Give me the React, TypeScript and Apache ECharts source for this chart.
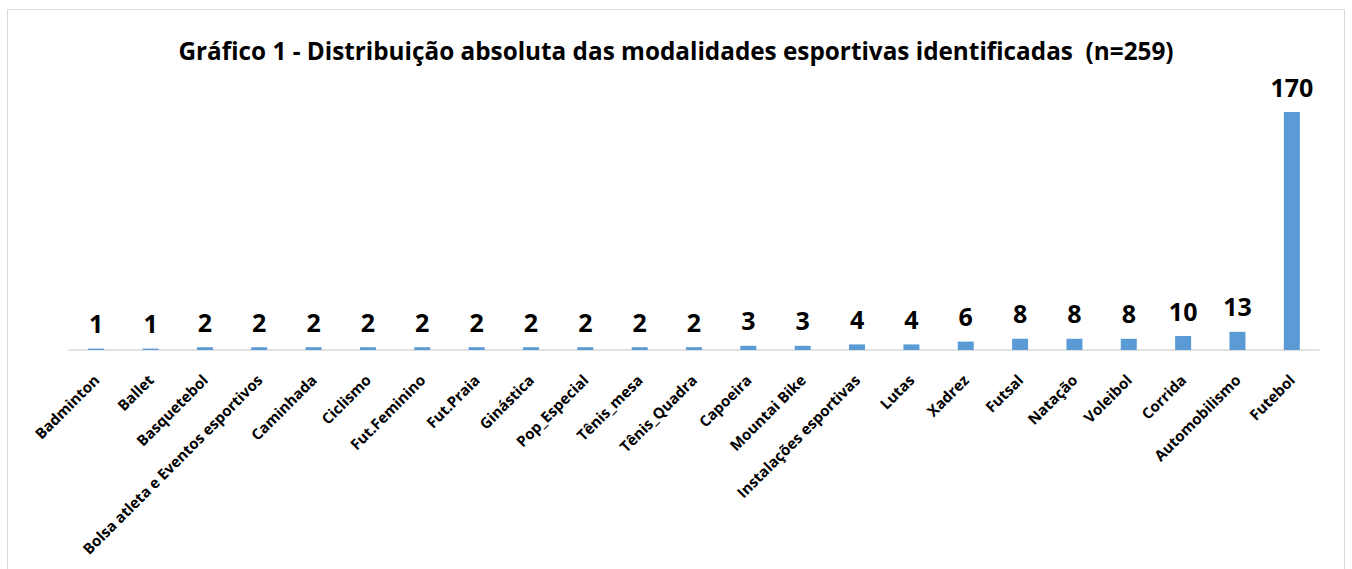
import React, { useEffect, useRef } from "react";
import * as echarts from "echarts";

const categories = [
  "Badminton", "Ballet", "Basquetebol", "Bolsa atleta e Eventos esportivos", "Caminhada",
  "Ciclismo", "Fut.Feminino", "Fut.Praia", "Ginástica", "Pop_Especial", "Tênis_mesa",
  "Tênis_Quadra", "Capoeira", "Mountai Bike", "Instalações esportivas", "Lutas", "Xadrez",
  "Futsal", "Natação", "Voleibol", "Corrida", "Automobilismo", "Futebol",
];
const values = [1, 1, 2, 2, 2, 2, 2, 2, 2, 2, 2, 2, 3, 3, 4, 4, 6, 8, 8, 8, 10, 13, 170];
const titleText = "Gráfico 1 - Distribuição absoluta das modalidades esportivas identificadas  (n=259)";

export default function App() {
  const ref = useRef<HTMLDivElement>(null);
  useEffect(() => {
    if (!ref.current) return;
    const chart = echarts.init(ref.current, null, { renderer: "svg" });
    chart.setOption({
      animation: false,
      backgroundColor: "#fff",
      title: {
        text: titleText,
        left: "center",
        top: 33,
        textStyle: { fontFamily: "Open Sans", fontWeight: "bold", fontSize: 24.3, color: "#000" },
      },
      graphic: [
        {
          type: "rect",
          shape: { x: 7.5, y: 9.5, width: 1337, height: 580 },
          style: { fill: "none", stroke: "#d9d9d9", lineWidth: 1 },
          silent: true,
        },
      ],
      grid: { left: 69, right: 33, top: 98, bottom: 219, containLabel: false },
      xAxis: {
        type: "category",
        data: categories,
        axisLine: { lineStyle: { color: "#d9d9d9", width: 1.5 } },
        axisTick: { show: false },
        axisLabel: {
          rotate: 45,
          interval: 0,
          margin: 27,
          fontFamily: "Open Sans",
          fontWeight: "bold",
          fontSize: 15,
          color: "#000",
        },
      },
      yAxis: {
        type: "value",
        min: 0,
        max: 180,
        show: false,
        splitLine: { show: false },
      },
      series: [
        {
          type: "bar",
          data: values,
          barWidth: 16,
          itemStyle: { color: "#5b9bd5" },
          label: {
            show: true,
            position: "top",
            distance: 13,
            fontFamily: "Open Sans",
            fontWeight: "bold",
            fontSize: 25,
            color: "#000",
          },
        },
      ],
    });
    return () => chart.dispose();
  }, []);
  return <div ref={ref} style={{ position: "fixed", left: 0, top: 0, width: 1352, height: 569 }} />;
}
